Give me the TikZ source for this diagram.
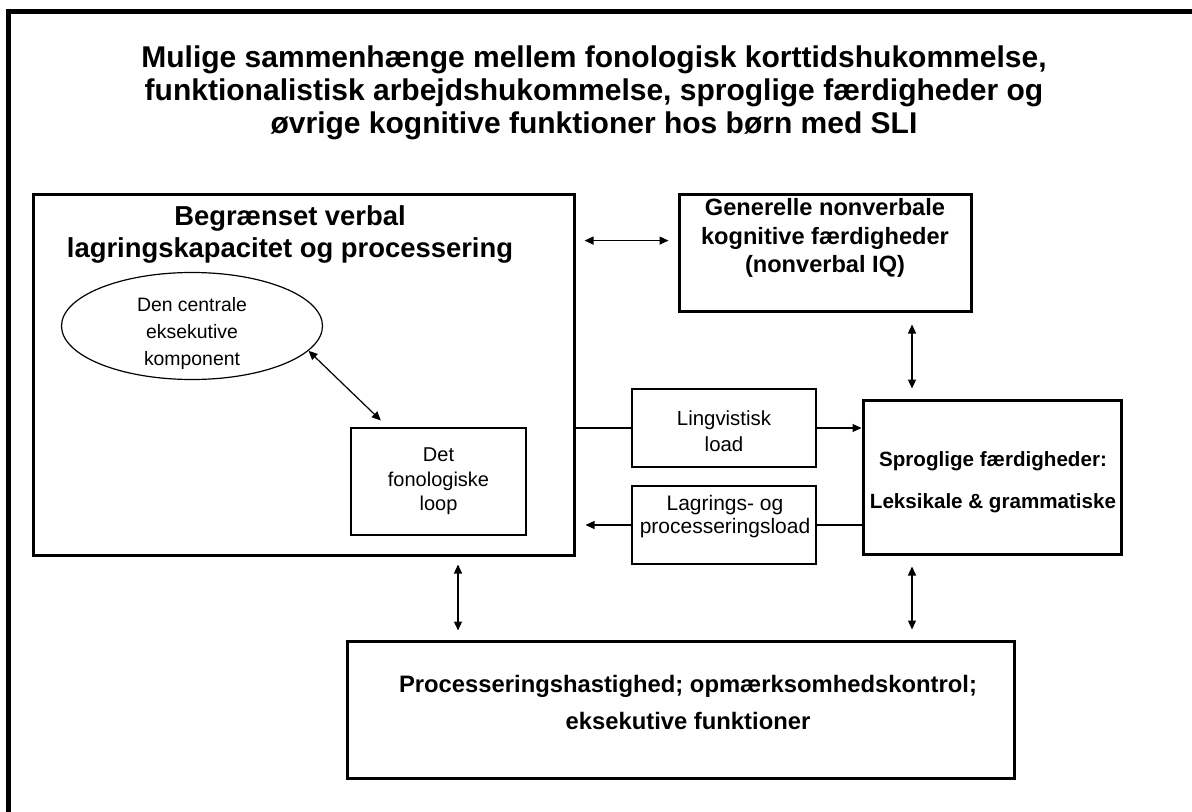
\documentclass[tikz,border=0pt]{standalone}
\usepackage{fontspec}
\setmainfont{Liberation Sans}
\usetikzlibrary{shapes.geometric}
\usetikzlibrary{arrows.meta}
\tikzset{box/.style={draw, rectangle, line width=#1, inner sep=0pt}}
\tikzset{heading/.style={align=center, inner sep=0pt, font=\bfseries\fontsize{15}{16.5}\selectfont}}
\tikzset{boldtext/.style={align=center, inner sep=0pt, font=\bfseries\fontsize{11.8}{14.3}\selectfont}}
\tikzset{plaintext/.style={align=center, inner sep=0pt, font=\fontsize{10}{12.5}\selectfont}}
\tikzset{onetip/.style={-{Triangle[length=4.5pt,width=4pt]}, line width=0.6pt}}
\tikzset{twotips/.style={{Triangle[length=4.5pt,width=4pt]}-{Triangle[length=4.5pt,width=4pt]}, line width=0.6pt}}

\begin{document}
\begin{tikzpicture}[x=0.5pt, y=-0.5pt]
\useasboundingbox (0,0) rectangle (1192,812);
\clip (0,0) rectangle (1192,812);
\draw[line width=2.5pt] (8.5,11.5) rectangle (1220,840);

% title
\node[heading] (title) at (594,93) {Mulige sammenhænge mellem fonologisk korttidshukommelse,\\
funktionalistisk arbejdshukommelse, sproglige færdigheder og\\
øvrige kognitive funktioner hos børn med SLI};

% boxes
\node[box=1.5pt, minimum width=270.5pt, minimum height=180pt] (verbal) at (303.5,375) {};
\node[heading, font=\bfseries\fontsize{13.7}{16}\selectfont] (verbaltitle) at (290,234) {Begrænset verbal\\lagringskapacitet og processering};
\node[draw, ellipse, line width=0.6pt, minimum width=130.5pt, minimum height=53.5pt, inner sep=0pt] (central) at (192,326) {};
\node[plaintext, font=\fontsize{9.7}{13.5}\selectfont] (centraltext) at (192,333) {Den centrale\\eksekutive\\komponent};
\node[box=0.6pt, minimum width=87.5pt, minimum height=53.5pt, plaintext, font=\fontsize{10}{12.25}\selectfont] (loop) at (438.5,481.5) {Det\\fonologiske\\loop};

\node[box=1.5pt, minimum width=146pt, minimum height=58.5pt] (nonverbal) at (825,253.5) {};
\node[boldtext] (nonverbaltext) at (825,238) {Generelle nonverbale\\kognitive færdigheder\\(nonverbal IQ)};

\node[box=1.5pt, minimum width=129pt, minimum height=77pt] (sprog) at (992,477) {};
\node[boldtext, font=\bfseries\fontsize{10.3}{21}\selectfont] (sprogtext) at (993,482) {Sproglige færdigheder:\\Leksikale \& grammatiske};

\node[box=1.2pt, minimum width=92pt, minimum height=39pt] (ling) at (724,428) {};
\node[plaintext, font=\fontsize{10.2}{13}\selectfont] (lingtext) at (724,431) {Lingvistisk\\load};
\node[box=1.2pt, minimum width=92pt, minimum height=39pt] (lager) at (724,525) {};
\node[plaintext, font=\fontsize{10.5}{11.5}\selectfont] (lagertext) at (725,517) {Lagrings- og\\processeringsload};

\node[box=1.5pt, minimum width=333.5pt, minimum height=68.5pt] (proces) at (680.5,709.5) {};
\node[boldtext, font=\bfseries\fontsize{11.9}{18.5}\selectfont] (procestext) at (688,702) {Processeringshastighed; opmærksomhedskontrol;\\eksekutive funktioner};

% connectors
\coordinate (lx) at (458,0);
\coordinate (rx) at (912,0);
\draw[twotips, shorten <=4.5pt, shorten >=4.5pt] (verbal.east |- nonverbal.175) -- (nonverbal.175);
\draw[twotips, shorten >=5pt] (central.-12.5) -- (loop.133);
\draw[twotips, shorten <=5.5pt, shorten >=5pt] (nonverbal.south -| rx) -- (sprog.north -| rx);
\draw[line width=0.6pt] (verbal.east |- ling.west) -- (ling.west);
\draw[onetip] (ling.east) -- (sprog.west |- ling.east);
\draw[line width=0.6pt] (sprog.west |- lager.east) -- (lager.east);
\draw[onetip, shorten >=5pt] (lager.west) -- (verbal.east |- lager.west);
\draw[twotips, shorten <=4pt, shorten >=4.5pt] (verbal.south -| lx) -- (proces.north -| lx);
\draw[twotips, shorten <=5.5pt, shorten >=5pt] (sprog.south -| rx) -- (proces.north -| rx);
\end{tikzpicture}
\end{document}
